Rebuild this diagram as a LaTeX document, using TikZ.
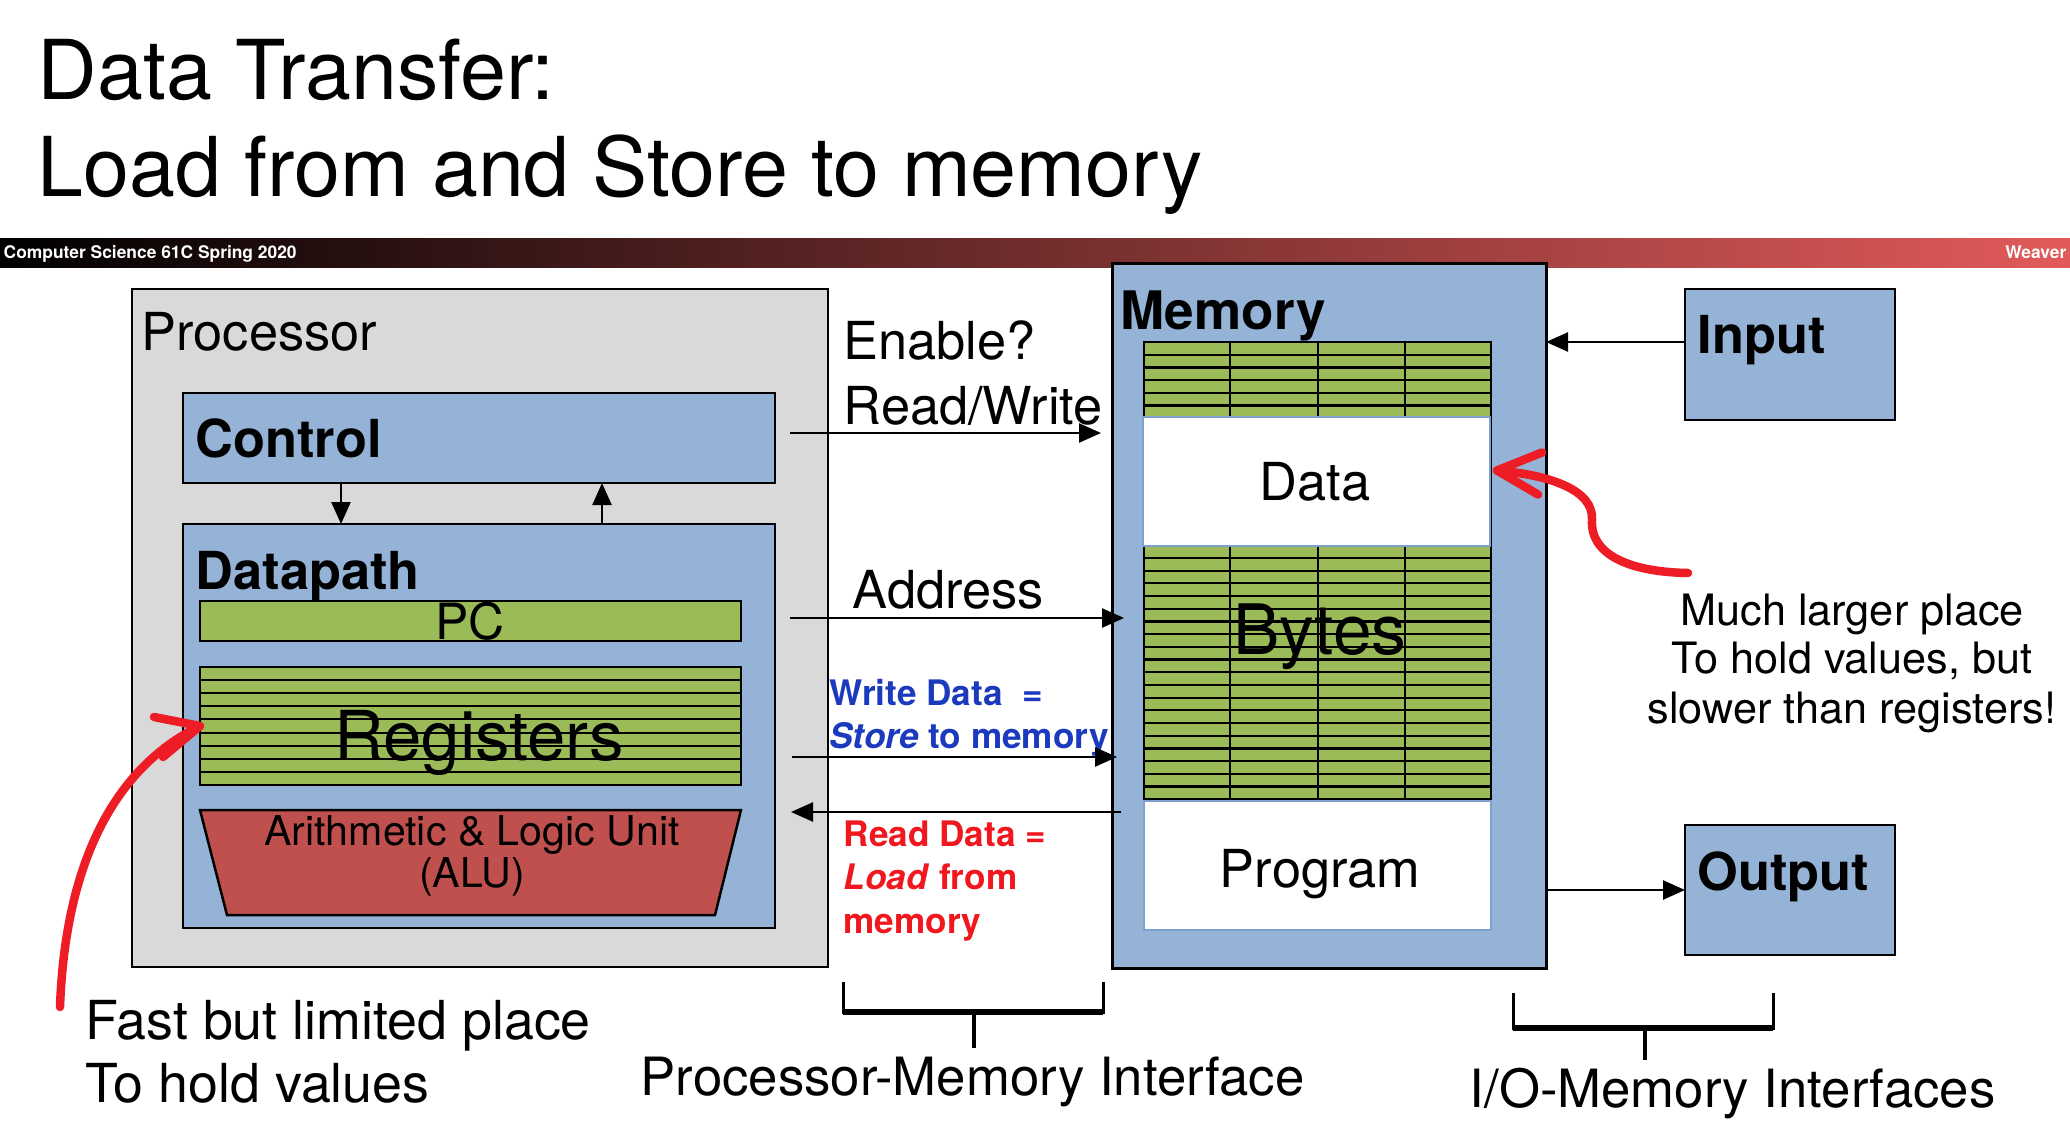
\documentclass[tikz,border=0pt]{standalone}
\usepackage{fontspec}
\setmainfont{TeX Gyre Heros}
\usetikzlibrary{arrows.meta}

\definecolor{procgray}{RGB}{217,217,217}
\definecolor{boxblue}{RGB}{149,179,215}
\definecolor{reggreen}{RGB}{155,187,89}
\definecolor{alured}{RGB}{192,80,77}
\definecolor{inkred}{RGB}{238,28,36}
\definecolor{txtred}{RGB}{240,24,30}
\definecolor{txtblue}{RGB}{28,58,190}
\definecolor{bannerred}{RGB}{226,90,90}
\definecolor{bannermid}{RGB}{100,36,36}
\definecolor{cellline}{RGB}{127,159,207}

\newcommand{\sz}[1]{\fontsize{#1}{#1}\selectfont}

\tikzset{
  blk/.style={draw, line width=0.25mm, anchor=north west, inner sep=0pt, outer sep=0pt},
  wire/.style={line width=0.25mm, -{Triangle[length=2.2mm,width=1.9mm]}},
  scrib/.style={draw=inkred, line width=0.85mm, line cap=round, line join=round},
  txt/.style={anchor=base west, inner sep=0pt, font=\sz{14.9pt}},
  mid/.style={anchor=base, inner sep=0pt, font=\sz{14.9pt}},
  brk/.style={line width=0.3mm},
}

\begin{document}
\begin{tikzpicture}[x=1cm,y=-1cm]
\useasboundingbox (0,0) rectangle (20.70,11.26);
\fill[white] (0,0) rectangle (20.70,11.26);

\node[txt, font=\sz{23.5pt}] (title1) at (0.37,1.00) {Data Transfer:};
\node[txt, font=\sz{23.5pt}] (title2) at (0.37,1.97) {Load from and Store to memory};

\shade[left color=black, middle color=bannermid, right color=bannerred] (0,2.39) rectangle (20.70,2.67);
\node[txt, font=\sz{4.95pt}\bfseries, text=white] (course) at (0.03,2.58) {Computer Science 61C Spring 2020};
\node[txt, anchor=base east, font=\sz{4.95pt}\bfseries, text=white] (author) at (20.67,2.58) {Weaver};

\node[blk, fill=procgray, minimum width=6.96cm, minimum height=6.78cm] (proc) at (1.32,2.89) {};
\node[txt] (procL) at (1.41,3.50) {Processor};
\node[blk, fill=boxblue, minimum width=5.92cm, minimum height=0.90cm] (ctrl) at (1.83,3.93) {};
\node[txt, font=\sz{14.9pt}\bfseries] (ctrlL) at (1.95,4.57) {Control};
\node[blk, fill=boxblue, minimum width=5.92cm, minimum height=4.04cm] (dp) at (1.83,5.24) {};
\node[txt, font=\sz{14.9pt}\bfseries] (dpL) at (1.95,5.89) {Datapath};
\node[blk, fill=reggreen, line width=0.2mm, minimum width=5.41cm, minimum height=0.40cm] (pc) at (2.00,6.01) {};
\node[mid, font=\sz{14.2pt}] (pcL) at (4.70,6.39) {PC};
\node[blk, fill=reggreen, minimum width=5.41cm, minimum height=1.18cm] (regs) at (2.00,6.67) {};
\foreach \i in {1,...,8}
  \draw[line width=0.2mm] (2.00,{6.67+0.131*\i}) -- (7.41,{6.67+0.131*\i});
\node[mid, font=\sz{19.6pt}] (regsL) at (4.79,7.60) {Registers};
\draw[line width=0.25mm, fill=alured] (2.00,8.10) -- (7.41,8.10) -- (7.15,9.15) -- (2.27,9.15) -- cycle;
\node[mid, font=\sz{11.7pt}] (aluL) at (4.72,8.45) {Arithmetic \& Logic Unit};
\node[mid, font=\sz{11.7pt}] (aluS) at (4.72,8.87) {(ALU)};

\draw[wire] ([xshift=1.58cm]ctrl.south west) -- ([xshift=1.58cm]dp.north west);
\draw[wire] ([xshift=4.19cm]dp.north west) -- ([xshift=4.19cm]ctrl.south west);

\node[blk, fill=boxblue, line width=0.3mm, minimum width=4.34cm, minimum height=7.05cm] (mem) at (11.12,2.63) {};
\node[txt, font=\sz{15.1pt}\bfseries] (memL) at (11.20,3.29) {Memory};
\node[blk, fill=reggreen, minimum width=3.47cm, minimum height=4.57cm] (cells) at (11.44,3.42) {};
\foreach \i in {1,...,35}
  \draw[line width=0.22mm] (11.44,{3.42+0.127*\i}) -- (14.91,{3.42+0.127*\i});
\foreach \x in {12.30,13.18,14.05}
  \draw[line width=0.22mm] (\x,3.42) -- (\x,7.99);
\node[mid, font=\sz{19.8pt}] (bytesL) at (13.20,6.54) {Bytes};
\node[blk, fill=white, draw=cellline, line width=0.15mm, minimum width=3.47cm, minimum height=1.29cm] (data) at (11.43,4.17) {};
\node[mid] (dataL) at (13.15,5.00) {Data};
\node[blk, fill=white, draw=cellline, line width=0.15mm, minimum width=3.47cm, minimum height=1.29cm] (prog) at (11.44,8.01) {};
\node[mid] (progL) at (13.20,8.87) {Program};

\node[txt] (enL) at (8.43,3.59) {Enable?};
\node[txt] (rwL) at (8.43,4.24) {Read/Write};
\node[txt] (addrL) at (8.52,6.08) {Address};
\node[txt, font=\sz{10pt}\bfseries, text=txtblue] (wdL) at (8.29,7.05) {Write Data\ \ =};
\node[txt, font=\sz{10pt}\bfseries, text=txtblue] (wdS) at (8.29,7.48) {\textit{Store} to memory};
\node[txt, font=\sz{10pt}\bfseries, text=txtred] (rdL) at (8.43,8.46) {Read Data =};
\node[txt, font=\sz{10pt}\bfseries, text=txtred] (rdS) at (8.43,8.89) {\textit{Load} from};
\node[txt, font=\sz{10pt}\bfseries, text=txtred] (rdM) at (8.43,9.33) {memory};

\coordinate (rwA) at (7.90,4.33);
\coordinate (adA) at (7.90,6.18);
\coordinate (wdA) at (7.92,7.57);
\coordinate (rdA) at (7.91,8.12);
\draw[wire, shorten >=1.1mm] (rwA) -- (rwA -| mem.west);
\draw[wire, shorten >=-1.2mm] (adA) -- (adA -| mem.west);
\draw[wire, shorten >=-0.5mm] (wdA) -- (wdA -| mem.west);
\draw[wire, shorten <=-0.9mm] (rdA -| mem.west) -- (rdA);

\node[blk, fill=boxblue, minimum width=2.10cm, minimum height=1.31cm] (inp) at (16.85,2.89) {};
\node[txt, font=\sz{14.9pt}\bfseries] (inpL) at (16.97,3.53) {Input};
\node[blk, fill=boxblue, minimum width=2.10cm, minimum height=1.30cm] (outp) at (16.85,8.25) {};
\node[txt, font=\sz{14.9pt}\bfseries] (outL) at (16.97,8.90) {Output};
\coordinate (inA) at (16.85,3.42);
\draw[wire] (inA) -- (inA -| mem.east);
\draw[wire] (outp.west -| mem.east) -- (outp.west);

\node[mid, font=\sz{12.3pt}] (big1) at (18.52,6.25) {Much larger place};
\node[mid, font=\sz{12.3pt}] (big2) at (18.52,6.73) {To hold values, but};
\node[mid, font=\sz{12.3pt}] (big3) at (18.52,7.23) {slower than registers!};
\node[txt, font=\sz{15.3pt}] (fast1) at (0.85,10.39) {Fast but limited place};
\node[txt, font=\sz{15.3pt}] (fast2) at (0.85,11.02) {To hold values};

\draw[scrib] (0.60,10.07) .. controls (0.65,8.70) and (1.10,7.70) .. (regs.west);
\draw[scrib] (regs.west) -- ++(-0.46,-0.09) (regs.west) -- ++(-0.37,0.31);
\coordinate (dataTip) at ([xshift=0.07cm,yshift=0.11cm]data.east);
\draw[scrib] (16.88,5.73) .. controls (16.30,5.72) and (15.90,5.55) .. (15.92,5.20) .. controls (15.94,4.90) and (15.50,4.75) .. (dataTip);
\draw[scrib] (dataTip) -- ++(0.45,-0.18) (dataTip) -- ++(0.41,0.24);

\draw[brk] (8.43,9.82) -- (8.43,10.12) -- (11.03,10.12) -- (11.03,9.82);
\draw[line width=0.55mm] (8.43,10.12) -- (11.03,10.12);
\draw[line width=0.4mm] (9.74,10.12) -- (9.74,10.48);
\node[txt, font=\sz{15pt}] (pmL) at (6.40,10.95) {Processor-Memory Interface};
\draw[brk] (15.13,9.93) -- (15.13,10.28) -- (17.73,10.28) -- (17.73,9.93);
\draw[line width=0.55mm] (15.13,10.28) -- (17.73,10.28);
\draw[line width=0.4mm] (16.45,10.28) -- (16.45,10.60);
\node[txt, font=\sz{15pt}] (ioL) at (14.69,11.07) {I/O-Memory Interfaces};
\end{tikzpicture}
\end{document}
